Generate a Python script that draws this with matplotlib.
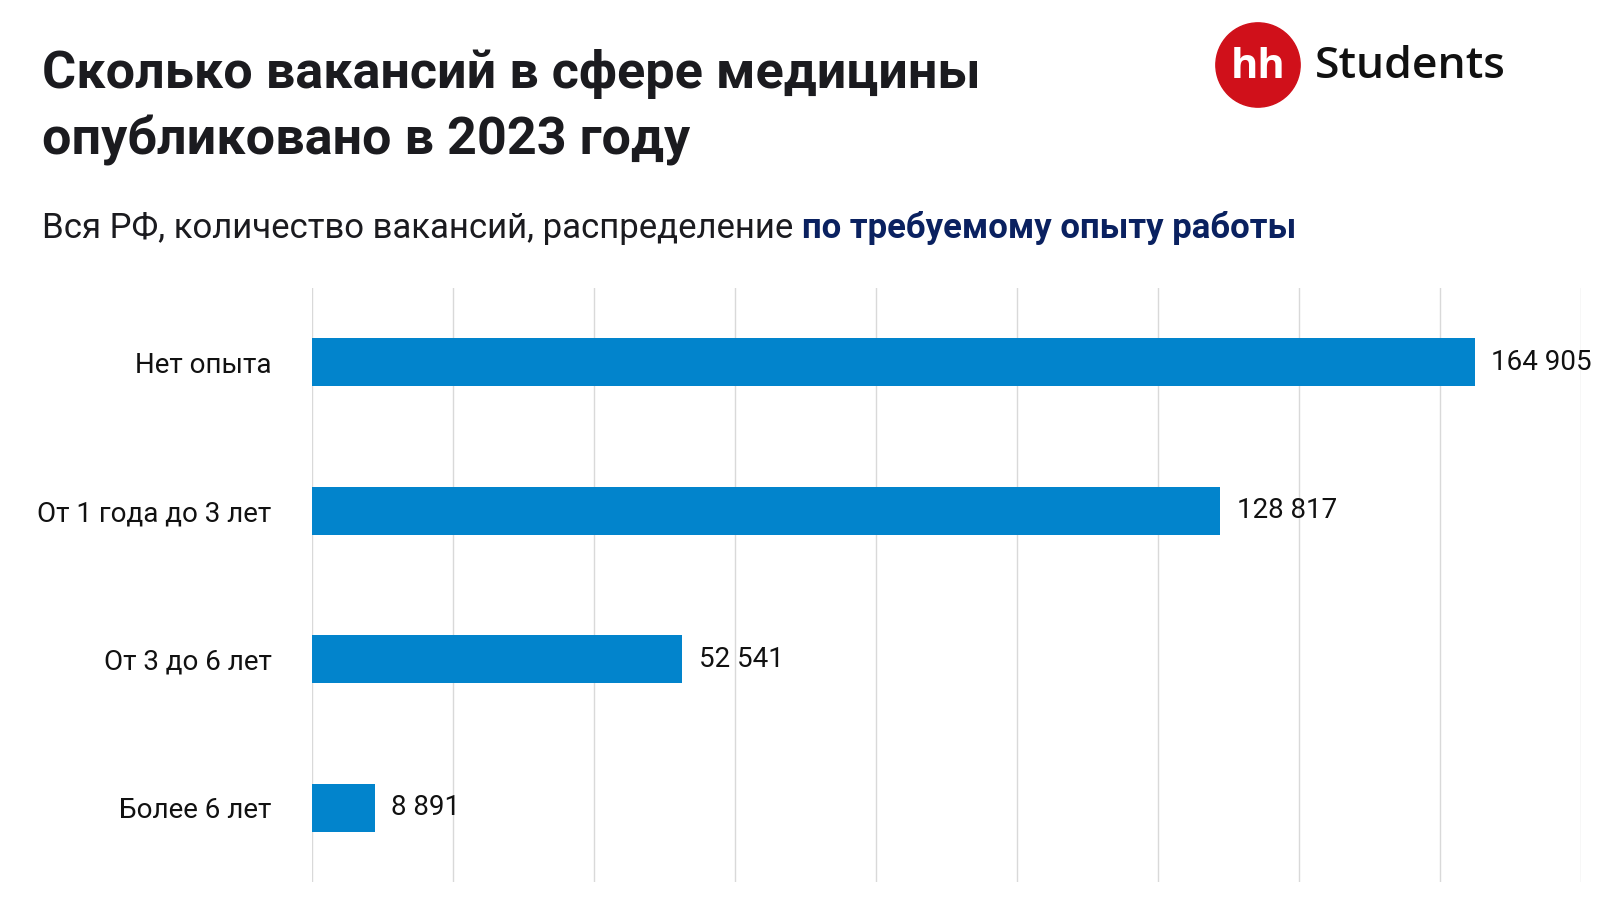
import matplotlib
matplotlib.use('Agg')
import matplotlib.pyplot as plt
from matplotlib.patches import Circle

# ------------------------------------------------------------------
# data
# ------------------------------------------------------------------
categories = ['Нет опыта', 'От 1 года до 3 лет', 'От 3 до 6 лет', 'Более 6 лет']
values = [164905, 128817, 52541, 8891]
grid_ticks = list(range(0, 180001, 20000))

title_lines = ['Сколько вакансий в сфере медицины', 'опубликовано в 2023 году']
subtitle_plain = 'Вся РФ, количество вакансий, распределение '
subtitle_bold = 'по требуемому опыту работы'

BAR = '#0284CC'
DARK = '#1b1b1f'
NAVY = '#0a2160'
GRID = '#d9d9d9'

plt.rcParams['font.family'] = ['Roboto', 'DejaVu Sans']

fig = plt.figure(figsize=(16, 9), dpi=100)
fig.patch.set_facecolor('white')

# ------------------------------------------------------------------
# bar chart
# ------------------------------------------------------------------
ax = fig.add_axes([312 / 1600, 18 / 900, 1269 / 1600, 594 / 900])
y = list(range(len(categories)))
ax.barh(y, values, height=0.32, color=BAR, zorder=2)
for t in grid_ticks:
    ax.axvline(t, color=GRID, lw=1, zorder=1)

ax.set_xlim(0, 180000)
ax.set_ylim(len(categories) - 0.5, -0.5)
ax.set_yticks(y)
ax.set_yticklabels(categories, fontsize=20, color='#111111')
ax.tick_params(axis='y', length=0, pad=29)
ax.set_xticks([])
for s in ax.spines.values():
    s.set_visible(False)

for yi, v in zip(y, values):
    ax.annotate(f'{v:,}'.replace(',', ' '), (v, yi), xytext=(12, 0),
                textcoords='offset points', va='center', ha='left',
                fontsize=20, color='#111111', zorder=3)

# ------------------------------------------------------------------
# title / subtitle
# ------------------------------------------------------------------
fig.text(42 / 1600, 1 - 88 / 900, title_lines[0], fontsize=37.5, weight='bold',
         color=DARK, va='baseline', ha='left')
fig.text(42 / 1600, 1 - 155 / 900, title_lines[1], fontsize=37.5, weight='bold',
         color=DARK, va='baseline', ha='left')

t1 = fig.text(42 / 1600, 1 - 238 / 900, subtitle_plain, fontsize=25,
              color=DARK, va='baseline', ha='left')
renderer = fig.canvas.get_renderer()
bb = t1.get_window_extent(renderer=renderer)
fig.text(bb.x1 / 1600, 1 - 238 / 900, subtitle_bold, fontsize=25,
         weight='bold', color=NAVY, va='baseline', ha='left')

# ------------------------------------------------------------------
# logo
# ------------------------------------------------------------------
lax = fig.add_axes([1215 / 1600, 1 - 108 / 900, 86 / 1600, 86 / 900])
lax.set_xlim(-1, 1)
lax.set_ylim(-1, 1)
lax.set_aspect('equal')
lax.axis('off')
lax.add_patch(Circle((0, 0), 0.98, color='#d0101a'))
lax.text(0, -0.05, 'hh', fontsize=30, weight='bold', color='white',
         ha='center', va='center', family=['Open Sans', 'DejaVu Sans'])
fig.text(1315 / 1600, 1 - 78 / 900, 'Students', fontsize=32, weight='semibold',
         color='#111111', va='baseline', ha='left',
         family=['Open Sans', 'DejaVu Sans'])

plt.savefig('out.png', dpi=100)
